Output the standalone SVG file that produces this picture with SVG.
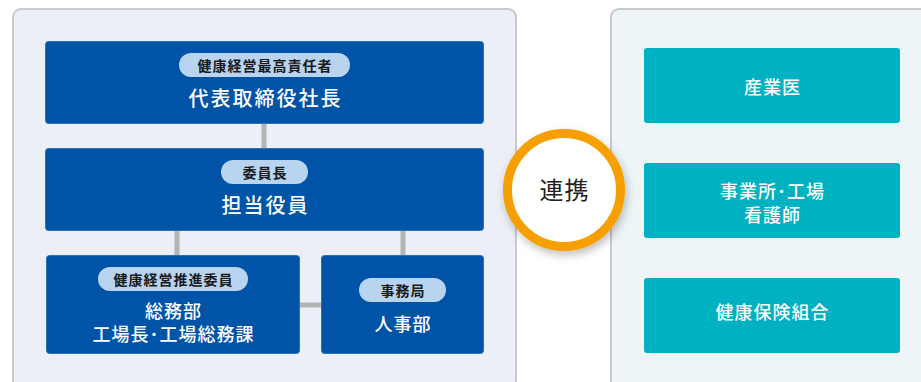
<svg xmlns="http://www.w3.org/2000/svg" width="921" height="382" viewBox="0 0 921 382">
<defs>
<style>
.panelL{fill:#eceef8;stroke:#c9cacd;stroke-width:2}
.panelR{fill:#eef5f9;stroke:#c9cacd;stroke-width:2}
.box{fill:#0054a7;stroke:#2f6fb4;stroke-width:1}
.tbox{fill:#00b1c1}
.pill{fill:#b9d4ee}
.lbl{font-family:"Noto Sans CJK JP","Noto Sans",sans-serif;font-size:14px;font-weight:700;fill:#1a1a1a;text-anchor:middle;letter-spacing:1px}
.main{font-family:"Noto Sans CJK JP","Noto Sans",sans-serif;font-size:18px;font-weight:500;fill:#ffffff;text-anchor:middle;letter-spacing:1px}
.big{font-size:20px;letter-spacing:2px}
.conn{stroke:#b4b4b4;stroke-width:5;fill:none}
</style>
<filter id="sh" x="-30%" y="-30%" width="160%" height="160%">
<feDropShadow dx="2" dy="4" stdDeviation="4" flood-color="#000" flood-opacity="0.25"/>
</filter>
</defs>
<rect class="panelL" x="13" y="9" width="503" height="380" rx="8"/>
<rect class="panelR" x="611" y="9" width="320" height="380" rx="8"/>
<g id="connectors">
<line class="conn" x1="264" y1="124" x2="264" y2="148"/>
<line class="conn" x1="177" y1="231" x2="177" y2="255"/>
<line class="conn" x1="403" y1="231" x2="403" y2="255"/>
<line class="conn" x1="299" y1="305" x2="321" y2="305"/>
</g>
<g id="ceo">
<rect class="box" x="45.5" y="41.5" width="438" height="82" rx="3"/>
<rect class="pill" x="179" y="53" width="171" height="24" rx="12"/>
<text class="lbl" x="265" y="71">健康経営最高責任者</text>
<text class="main big" x="265.5" y="106">代表取締役社長</text>
</g>
<g id="officer">
<rect class="box" x="45.5" y="148.5" width="438" height="82" rx="3"/>
<rect class="pill" x="221" y="160" width="87" height="24" rx="12"/>
<text class="lbl" x="265" y="178">委員長</text>
<text class="main big" x="265.5" y="213">担当役員</text>
</g>
<g id="promotion">
<rect class="box" x="46.5" y="255.5" width="253" height="98" rx="3"/>
<rect class="pill" x="98" y="267" width="150" height="24" rx="12"/>
<text class="lbl" x="173.5" y="285">健康経営推進委員</text>
<text class="main" x="173.5" y="318">総務部</text>
<text class="main" x="173.5" y="341">工場長･工場総務課</text>
</g>
<g id="secretariat">
<rect class="box" x="321.5" y="255.5" width="162" height="98" rx="3"/>
<rect class="pill" x="359" y="278" width="87" height="24" rx="12"/>
<text class="lbl" x="403" y="296">事務局</text>
<text class="main" x="403" y="331">人事部</text>
</g>
<g id="renkei">
<circle cx="564" cy="190" r="56.5" fill="#ffffff" stroke="#f5a000" stroke-width="9" filter="url(#sh)"/>
<text x="564.5" y="199" font-family="Noto Sans CJK JP,sans-serif" font-size="24" letter-spacing="1" fill="#222" text-anchor="middle">連携</text>
</g>
<g id="doctor">
<rect class="tbox" x="644" y="48" width="256" height="75" rx="3"/>
<text class="main" x="772.5" y="94">産業医</text>
</g>
<g id="nurse">
<rect class="tbox" x="644" y="163" width="256" height="75" rx="3"/>
<text class="main" x="772.5" y="198">事業所･工場</text>
<text class="main" x="772.5" y="222">看護師</text>
</g>
<g id="kenpo">
<rect class="tbox" x="644" y="278" width="256" height="75" rx="3"/>
<text class="main" x="772.5" y="319">健康保険組合</text>
</g>
</svg>
